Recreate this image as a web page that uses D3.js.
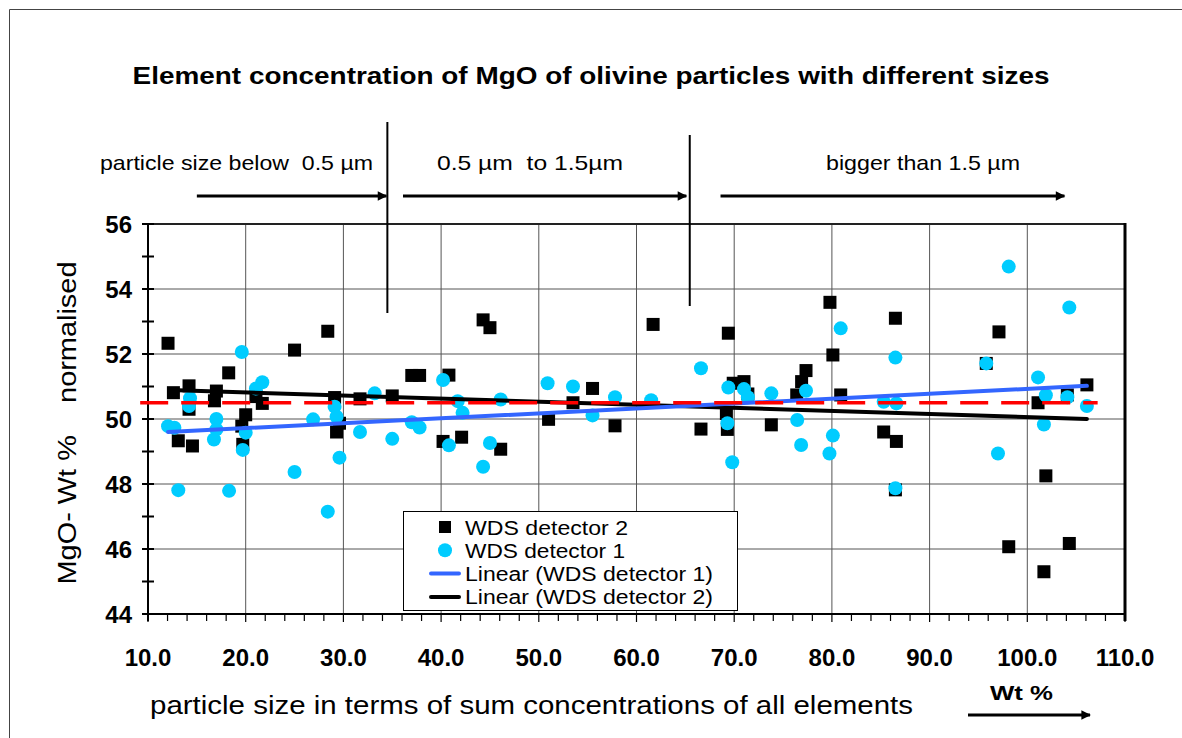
<!DOCTYPE html>
<meta charset="utf-8">
<style>
	body {
	margin: 0;
	background-color: #fff;
	}
	svg {
	font-family: Arial, "Liberation Sans", sans-serif;
	}
	.frame {
	fill: none;
	stroke: #444;
	stroke-width: 1;
	}
	.grid line {
	stroke: #555;
	stroke-width: 1;
	}
	.axis line, .axis path {
	stroke: #000;
	stroke-width: 2;
	fill: none;
	}
	.ticklabel {
	font-size: 24px;
	font-weight: bold;
	fill: #000;
	}
	.trend {
	fill: none;
	stroke-width: 4;
	stroke-linecap: round;
	}
	.ref {
	stroke: #ff0000;
	stroke-width: 3.5;
	stroke-dasharray: 28,13;
	}
	.note {
	font-size: 21px;
	fill: #000;
	}
	.arrow {
	stroke: #000;
	stroke-width: 3;
	}
	.legend text {
	font-size: 20px;
	}
</style>
<body>
<script src="https://d3js.org/d3.v7.min.js"></script>
<script>
var width = 1182,
    height = 738;

var xTicks = [10, 20, 30, 40, 50, 60, 70, 80, 90, 100, 110];
var yTicks = [44, 46, 48, 50, 52, 54, 56];

// WDS detector 2 (black squares): [sum Wt %, MgO Wt %]
var det2 = [
  [12.05, 52.33], [14.2, 51.02], [12.6, 50.81], [17.0, 50.86], [16.8, 50.56],
  [18.26, 51.42], [25.0, 52.12], [28.4, 52.70], [21.7, 50.48], [29.1, 50.66],
  [31.7, 50.62], [35.0, 50.71], [13.1, 49.33], [14.55, 49.17], [19.6, 49.78],
  [19.7, 49.22], [20.0, 50.13], [29.3, 49.60], [29.6, 49.87], [14.2, 50.30],
  [21.05, 50.69], [44.3, 53.05], [45.0, 52.81], [37.0, 51.34], [37.8, 51.34],
  [40.8, 51.35], [55.5, 50.94], [53.5, 50.50], [40.2, 49.31], [42.1, 49.44],
  [46.1, 49.07], [51.0, 49.99], [57.8, 49.79], [61.7, 52.91], [69.4, 52.64],
  [79.8, 53.59], [86.5, 53.10], [80.1, 51.97], [77.35, 51.49], [76.9, 51.15],
  [76.4, 50.74], [80.9, 50.74], [69.9, 51.10], [71.0, 51.15], [71.4, 50.77],
  [66.6, 49.69], [69.3, 49.68], [69.2, 50.17], [73.8, 49.82], [85.3, 49.60],
  [86.6, 49.31], [86.5, 47.82], [97.1, 52.68], [95.8, 51.71], [106.1, 51.05],
  [101.1, 50.50], [104.1, 50.74], [101.9, 48.25], [98.1, 46.07], [104.3, 46.17],
  [101.7, 45.30]
];

// WDS detector 1 (cyan circles)
var det1 = [
  [19.6, 52.06], [21.7, 51.13], [21.05, 50.94], [14.3, 50.64], [33.2, 50.79],
  [29.1, 50.38], [12.05, 49.78], [12.7, 49.73], [14.2, 50.40], [17.0, 50.0],
  [17.0, 49.68], [16.75, 49.37], [13.1, 47.81], [18.3, 47.79], [19.7, 49.05],
  [20.0, 49.58], [25.0, 48.37], [26.9, 49.99], [28.4, 47.15], [29.3, 50.07],
  [29.6, 48.81], [31.7, 49.60], [35.0, 49.39], [40.2, 51.2], [41.7, 50.55],
  [46.1, 50.6], [50.9, 51.1], [53.5, 51.0], [57.8, 50.67], [61.5, 50.58],
  [37.0, 49.9], [37.8, 49.74], [40.8, 49.19], [42.2, 50.19], [45.0, 49.26],
  [44.3, 48.53], [55.5, 50.11], [66.6, 51.56], [80.9, 52.79], [86.5, 51.89],
  [69.4, 50.97], [71.0, 50.92], [71.4, 50.67], [73.8, 50.79], [77.35, 50.87],
  [85.3, 50.53], [86.6, 50.48], [69.3, 49.87], [69.8, 48.67], [76.45, 49.97],
  [76.85, 49.2], [80.1, 49.49], [79.75, 48.94], [86.5, 47.87], [98.1, 54.69],
  [104.3, 53.43], [95.8, 51.71], [101.1, 51.28], [101.9, 50.73], [104.1, 50.67],
  [106.1, 50.4], [97.0, 48.94], [101.7, 49.83]
];

// linear trend end points
var trend1 = [[12.05, 49.6], [106.1, 51.02]];
var trend2 = [[12.25, 50.89], [106.1, 50.0]];
var refLevel = 50.5;

// size class boundaries and arrows (x in Wt %)
var bounds = [34.5, 65.45];
var arrows = [[15.0, 34.4], [36.1, 65.1], [68.6, 103.8]];
var notes = ["particle size below  0.5 µm", "0.5 µm  to 1.5µm", "bigger than 1.5 µm"];

var x = d3.scaleLinear().domain([10, 110]).range([148, 1125]);
var y = d3.scaleLinear().domain([44, 56]).range([614, 224]);

// stretch a text to the width it has in the original
function fit(sel, w) {
  sel.attr("textLength", w).attr("lengthAdjust", "spacingAndGlyphs");
}

var svg = d3.select("body").append("svg")
    .attr("width", width)
    .attr("height", height);

var defs = svg.append("defs");
defs.append("marker")
    .attr("id", "head")
    .attr("viewBox", "0 0 10 10")
    .attr("refX", 9).attr("refY", 5)
    .attr("markerWidth", 4).attr("markerHeight", 3.2)
    .attr("markerUnits", "strokeWidth")
    .attr("orient", "auto")
  .append("path")
    .attr("d", "M0,0L10,5L0,10Z");

svg.append("path")
    .attr("class", "frame")
    .attr("d", "M9.5," + height + "V9.5H" + width);

// grid
var grid = svg.append("g").attr("class", "grid");
grid.selectAll(".gx").data(xTicks.slice(1, -1))
  .enter().append("line")
    .attr("x1", function(d) { return x(d); }).attr("x2", function(d) { return x(d); })
    .attr("y1", y(56)).attr("y2", y(44));
grid.selectAll(".gy").data(yTicks.slice(1))
  .enter().append("line")
    .attr("x1", x(10)).attr("x2", x(110))
    .attr("y1", function(d) { return y(d); }).attr("y2", function(d) { return y(d); })
    .style("stroke-width", function(d) { return d == 56 ? 2 : 1; })
    .style("stroke", function(d) { return d == 56 ? "#222" : null; });

svg.append("line")
    .attr("x1", x(110)).attr("x2", x(110))
    .attr("y1", y(56) - 1).attr("y2", y(44) + 7)
    .style("stroke", "#000").style("stroke-width", 3);

// axes
var ax = svg.append("g").attr("class", "axis");
ax.append("line").attr("x1", x(10) - 6).attr("x2", x(110)).attr("y1", y(44)).attr("y2", y(44));
ax.append("line").attr("x1", x(10)).attr("x2", x(10)).attr("y1", y(56)).attr("y2", y(44) + 7);

ax.selectAll(".xm").data(d3.range(10, 111, 2))
  .enter().append("line")
    .attr("x1", function(d) { return x(d); }).attr("x2", function(d) { return x(d); })
    .attr("y1", y(44)).attr("y2", function(d) { return y(44) + (d % 10 == 0 ? 8 : 7); })
    .style("stroke-width", 1.2);

ax.selectAll(".ym").data(d3.range(44, 57, 1))
  .enter().append("line")
    .attr("x1", x(10) - 6).attr("x2", x(10) + 6)
    .attr("y1", function(d) { return y(d); }).attr("y2", function(d) { return y(d); })
    .style("stroke-width", 2);

svg.append("g").selectAll("text").data(xTicks)
  .enter().append("text")
    .attr("class", "ticklabel")
    .attr("x", function(d) { return x(d); })
    .attr("y", 666)
    .attr("text-anchor", "middle")
    .text(d3.format(".1f"));

svg.append("g").selectAll("text").data(yTicks)
  .enter().append("text")
    .attr("class", "ticklabel")
    .attr("x", 132)
    .attr("y", function(d) { return y(d) + 8.5; })
    .attr("text-anchor", "end")
    .text(function(d) { return d; });

// points
svg.append("g").selectAll("rect").data(det2)
  .enter().append("rect")
    .attr("x", function(d) { return x(d[0]) - 6.5; })
    .attr("y", function(d) { return y(d[1]) - 6.5; })
    .attr("width", 13).attr("height", 13)
    .attr("fill", "#000");

svg.append("g").selectAll("circle").data(det1)
  .enter().append("circle")
    .attr("cx", function(d) { return x(d[0]); })
    .attr("cy", function(d) { return y(d[1]); })
    .attr("r", 7)
    .attr("fill", "#00ccff");

var line = d3.line().x(function(d) { return x(d[0]); }).y(function(d) { return y(d[1]); });

svg.append("path").datum(trend2).attr("class", "trend").attr("stroke", "#000").attr("d", line);
svg.append("path").datum(trend1).attr("class", "trend").attr("stroke", "#3366ff").attr("d", line);

svg.append("line")
    .attr("class", "ref")
    .attr("x1", x(9.2)).attr("x2", x(107.2))
    .attr("y1", y(refLevel)).attr("y2", y(refLevel));

// size class separators
svg.selectAll(".sep").data(bounds)
  .enter().append("line")
    .attr("x1", function(d) { return x(d); }).attr("x2", function(d) { return x(d); })
    .attr("y1", function(d, i) { return i == 0 ? 122 : 135; })
    .attr("y2", function(d, i) { return i == 0 ? 313 : 306; })
    .style("stroke", "#000").style("stroke-width", 2);

svg.selectAll(".arr").data(arrows)
  .enter().append("line")
    .attr("class", "arrow")
    .attr("x1", function(d) { return x(d[0]); }).attr("x2", function(d) { return x(d[1]); })
    .attr("y1", 196).attr("y2", 196)
    .attr("marker-end", "url(#head)");

var noteX = [236.5, 530, 923],
    noteW = [273, 186, 194];
svg.selectAll(".note").data(notes)
  .enter().append("text")
    .attr("class", "note")
    .attr("x", function(d, i) { return noteX[i] - noteW[i] / 2; })
    .attr("y", 170)
    .attr("textLength", function(d, i) { return noteW[i]; })
    .attr("lengthAdjust", "spacingAndGlyphs")
    .style("white-space", "pre")
    .text(function(d) { return d; });

// title
svg.append("text")
    .attr("x", 591 - 458.5).attr("y", 84)
    .style("font-size", "24px").style("font-weight", "bold")
    .text("Element concentration of MgO of olivine particles with different sizes")
    .call(fit, 917);

// axis titles
svg.append("text")
    .attr("transform", "translate(76,584.5) rotate(-90)")
    .style("font-size", "26px")
    .style("white-space", "pre")
    .text("MgO- Wt %    normalised")
    .call(fit, 323);

svg.append("text")
    .attr("x", 150).attr("y", 714)
    .style("font-size", "26px")
    .text("particle size in terms of sum concentrations of all elements")
    .call(fit, 763);

svg.append("text")
    .attr("x", 990).attr("y", 700)
    .style("font-size", "20px").style("font-weight", "bold")
    .text("Wt %")
    .call(fit, 63);

svg.append("line")
    .attr("class", "arrow")
    .attr("x1", 968).attr("x2", 1090)
    .attr("y1", 715).attr("y2", 715)
    .attr("marker-end", "url(#head)");

// legend
var legend = svg.append("g").attr("class", "legend");
legend.append("rect")
    .attr("x", 403.5).attr("y", 511.5)
    .attr("width", 334).attr("height", 99)
    .attr("fill", "#fff").attr("stroke", "#000");

var legendItems = ["WDS detector 2", "WDS detector 1", "Linear (WDS detector 1)", "Linear (WDS detector 2)"];
var legendW = [163, 160, 248, 248];
legendItems.forEach(function(t, i) {
  var cy = 527 + i * 23.3;
  if (i == 0) legend.append("rect").attr("x", 439).attr("y", cy - 6).attr("width", 12).attr("height", 12).attr("fill", "#000");
  if (i == 1) legend.append("circle").attr("cx", 445).attr("cy", cy).attr("r", 7).attr("fill", "#00ccff");
  if (i > 1) legend.append("line").attr("x1", 431).attr("x2", 459).attr("y1", cy).attr("y2", cy)
      .attr("class", "trend").attr("stroke", i == 2 ? "#3366ff" : "#000");
  legend.append("text").attr("x", 465).attr("y", cy + 7.5).text(t).call(fit, legendW[i]);
});
</script>
</body>
